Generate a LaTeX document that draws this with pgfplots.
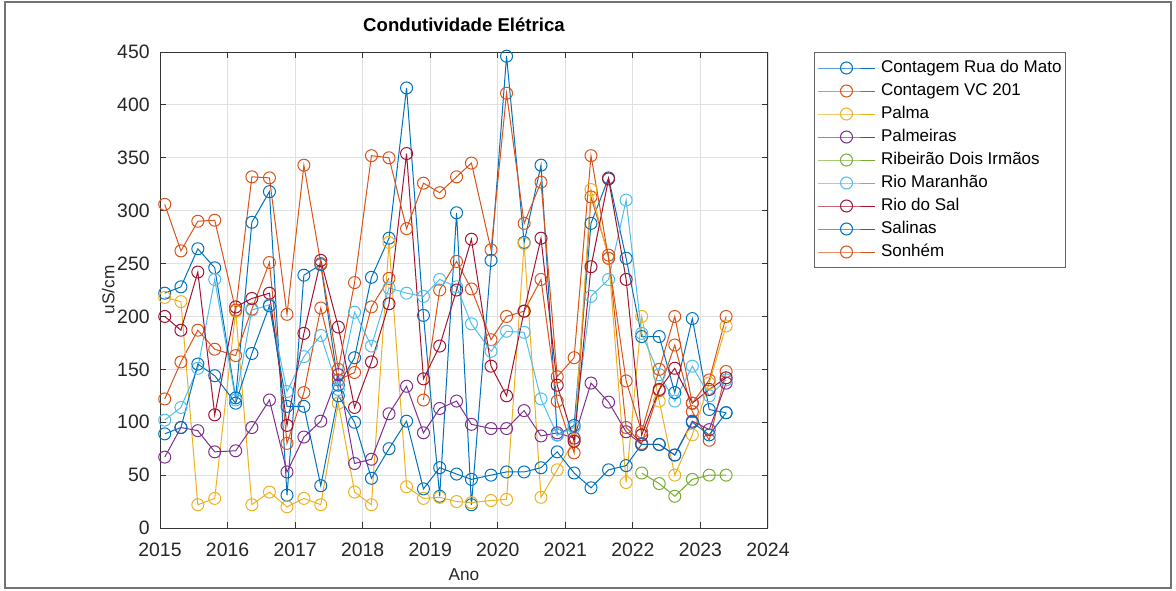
\documentclass[border=0pt]{standalone}
\usepackage{pgfplots}
\pgfplotsset{compat=1.18}
\usepackage{pgfplotstable}
\usepackage{fontspec}
\setmainfont{Liberation Sans}
\definecolor{c1}{RGB}{0,114,189}
\definecolor{c2}{RGB}{217,83,25}
\definecolor{c3}{RGB}{237,177,32}
\definecolor{c4}{RGB}{126,47,142}
\definecolor{c5}{RGB}{119,172,48}
\definecolor{c6}{RGB}{77,190,238}
\definecolor{c7}{RGB}{162,20,47}
\pgfplotstableread{
t       s1   s2   s3   s4   s5   s6   s7   s8   s9
2015.07 222  122  218  67   nan  102  200  89   306
2015.31 228  157  214  95   nan  114  187  95   262
2015.56 264  187  22   92   nan  151  242  155  290
2015.81 246  169  28   72   nan  235  107  144  291
2016.12 123  163  205  73   nan  121  209  118  206
2016.36 289  207  22   95   nan  206  217  165  332
2016.62 318  251  34   121  nan  211  222  210  331
2016.88 31   80   20   53   nan  129  97   115  202
2017.13 239  128  28   86   nan  162  184  115  343
2017.38 249  208  22   101  nan  182  253  40   250
2017.64 135  140  118  145  nan  131  190  125  150
2017.88 161  147  34   61   nan  204  114  100  232
2018.13 237  209  22   65   nan  172  157  47   352
2018.39 274  236  270  108  nan  227  212  75   350
2018.65 416  nan  39   134  nan  222  354  101  283
2018.90 201  121  28   90   nan  219  141  37   326
2019.14 30   225  29   113  nan  235  172  57   317
2019.39 298  252  25   120  nan  228  225  51   332
2019.61 22   226  24   98   nan  193  273  46   345
2019.90 253  178  26   94   nan  167  153  50   263
2020.13 446  200  27   94   nan  186  125  53   411
2020.39 270  205  269  111  nan  185  205  53   288
2020.64 343  235  29   87   nan  122  274  57   327
2020.88 88   120  55   90   nan  88   135  72   143
2021.13 97   71   83   85   nan  95   82   52   161
2021.38 288  313  320  137  nan  219  247  38   352
2021.64 331  258  255  119  nan  235  330  55   255
2021.90 255  95   43   91   nan  310  235  59   139
2022.13 181  80   200  79   52   184  88   79   91
2022.39 181  130  120  79   42   145  131  79   150
2022.62 128  173  50   69   30   120  151  69   200
2022.88 198  110  88   101  46   153  118  100  118
2023.13 112  83   137  93   50   125  131  88   140
2023.38 109  148  191  137  50   140  142  109  200
}\data
\begin{document}
\begin{tikzpicture}
\useasboundingbox (0,0) rectangle (588pt,295pt);
\draw[line width=0.6pt, black!55] (2.5pt,1pt) rectangle (585.5pt,294pt);
\begin{axis}[
  at={(80pt,31pt)}, anchor=south west,
  scale only axis, width=304pt, height=238pt,
  xmin=2015, xmax=2024, ymin=0, ymax=450,
  xtick={2015,2016,...,2024}, ytick={0,50,...,450},
  /pgf/number format/1000 sep={},
  /pgf/number format/assume math mode=true,
  tick label style={font=\fontsize{9.7}{11}\selectfont, text=black!85},
  xticklabel style={anchor=base, yshift=-14.3pt},
  yticklabel style={anchor=east, inner xsep=0pt, xshift=-5pt},
  grid=major, grid style={color=black!12, line width=0.4pt},
  axis line style={black!80, line width=0.5pt},
  tick style={black!80, line width=0.5pt},
  tick align=inside, major tick length=3pt,
  title={Condutividade Elétrica},
  title style={at={(0.5,1)}, anchor=base, yshift=4.3pt, font=\bfseries\fontsize{9.3}{11}\selectfont},
  xlabel={Ano},
  xlabel style={at={(axis description cs:0.5,0)}, anchor=base, yshift=-26pt, font=\fontsize{8.6}{10}\selectfont, text=black!85},
  ylabel={uS/cm},
  ylabel style={at={(axis description cs:-0.085,0.5)}, anchor=center, font=\fontsize{8.6}{10}\selectfont, text=black!85},
  unbounded coords=jump,
  every axis plot/.append style={line width=0.5pt, mark=o, mark size=3pt},
  legend style={at={(rel axis cs:1,1)}, anchor=north west, xshift=23pt,
    draw=black!60, line width=0.5pt, fill=white,
    font=\fontsize{8.5}{10}\selectfont, inner xsep=1.5pt, inner ysep=3pt, row sep=2pt,
    nodes={inner sep=0.75pt, text height=6.2pt, text depth=1.8pt},
    /tikz/every odd column/.append style={column sep=2pt}},
  legend cell align=left,
  legend image code/.code={\draw[mark repeat=2,mark phase=2,#1] plot coordinates {(0pt,0pt) (14.25pt,0pt) (28.5pt,0pt)};},
]
\addplot[color=c1] table[x=t,y=s1]{\data}; \addlegendentry{Contagem Rua do Mato}
\addplot[color=c2] table[x=t,y=s2]{\data}; \addlegendentry{Contagem VC 201}
\addplot[color=c3] table[x=t,y=s3]{\data}; \addlegendentry{Palma}
\addplot[color=c4] table[x=t,y=s4]{\data}; \addlegendentry{Palmeiras}
\addplot[color=c5] table[x=t,y=s5]{\data}; \addlegendentry{Ribeirão Dois Irmãos}
\addplot[color=c6] table[x=t,y=s6]{\data}; \addlegendentry{Rio Maranhão}
\addplot[color=c7] table[x=t,y=s7]{\data}; \addlegendentry{Rio do Sal}
\addplot[color=c1] table[x=t,y=s8]{\data}; \addlegendentry{Salinas}
\addplot[color=c2] table[x=t,y=s9]{\data}; \addlegendentry{Sonhém}
\end{axis}
\end{tikzpicture}
\end{document}
